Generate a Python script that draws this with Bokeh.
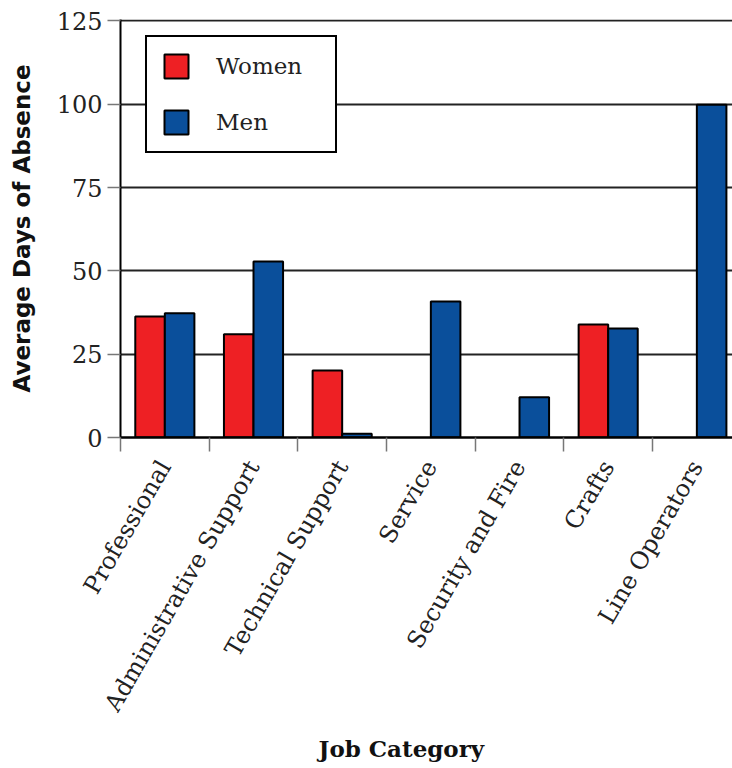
import math
from bokeh.plotting import figure
from bokeh.models import (ColumnDataSource, Range1d, FixedTicker, Legend, LegendItem, Title)
from bokeh.embed import file_html
from bokeh.resources import INLINE

# ---- data ----
categories = ["Professional", "Administrative Support", "Technical Support", "Service",
              "Security and Fire", "Crafts", "Line Operators"]
women = [36.3, 31.0, 20.1, 0, 0, 33.9, 0]
men = [37.3, 52.8, 1.1, 40.8, 12.1, 32.7, 99.8]
y_ticks = [0, 25, 50, 75, 100, 125]
series_names = ["Women", "Men"]
series_colors = ["#EE2024", "#0A4F9B"]
x_title = "Job Category"
y_title = "Average Days of Absence"

n = len(categories)
centers = [i + 0.5 for i in range(n)]
bw = 1.0 / 3.0

src_w = ColumnDataSource(dict(
    x=[c - bw / 2 for c, v in zip(centers, women) if v > 0],
    top=[v for v in women if v > 0]))
src_m = ColumnDataSource(dict(
    x=[c + bw / 2 for c, v in zip(centers, men) if v > 0],
    top=[v for v in men if v > 0]))

p = figure(width=732, height=768, output_backend="svg", toolbar_location=None,
           x_range=Range1d(0, 6.902), y_range=Range1d(0, 125.4),
           min_border_left=120, min_border_right=0, min_border_top=19,
           min_border_bottom=331)
p.outline_line_color = None
p.background_fill_color = "white"
p.border_fill_color = "white"

rw = p.vbar(x="x", top="top", bottom=0, width=bw, source=src_w,
            fill_color=series_colors[0], line_color="black", line_width=2)
rm = p.vbar(x="x", top="top", bottom=0, width=bw, source=src_m,
            fill_color=series_colors[1], line_color="black", line_width=2)

# y axis
yax = p.yaxis[0]
yax.ticker = FixedTicker(ticks=y_ticks)
yax.axis_line_color = "black"
yax.axis_line_width = 2
yax.major_tick_line_color = "#777777"
yax.major_tick_line_width = 1.5
yax.major_tick_out = 13
yax.major_tick_in = 0
yax.minor_tick_line_color = None
yax.major_label_standoff = 5
yax.major_label_text_font = "DejaVu Serif"
yax.major_label_text_font_size = "24px"
yax.major_label_text_color = "#222222"
yax.axis_label = y_title
yax.axis_label_text_font = "DejaVu Sans"
yax.axis_label_text_font_style = "bold"
yax.axis_label_text_font_size = "23px"
yax.axis_label_text_color = "#111111"
yax.axis_label_standoff = 19

p.ygrid[0].ticker = FixedTicker(ticks=y_ticks[1:])
p.ygrid[0].grid_line_color = "#222222"
p.ygrid[0].grid_line_width = 2
p.xgrid[0].grid_line_color = None

# x axis
xax = p.xaxis[0]
xax.ticker = FixedTicker(ticks=centers, minor_ticks=list(range(n + 1)))
xax.major_label_overrides = {c: lab for c, lab in zip(centers, categories)}
xax.major_label_orientation = math.pi / 3
xax.major_tick_line_color = None
xax.major_tick_out = 0
xax.major_tick_in = 0
xax.minor_tick_line_color = "#777777"
xax.minor_tick_line_width = 1.5
xax.minor_tick_out = 14
xax.minor_tick_in = 0
xax.axis_line_color = "black"
xax.axis_line_width = 2.5
xax.major_label_standoff = 11
xax.major_label_text_font = "DejaVu Serif"
xax.major_label_text_font_size = "24px"
xax.major_label_text_color = "#222222"

# x title
xt = Title(text=x_title, align="left", offset=198, standoff=12,
           text_font="DejaVu Serif", text_font_style="bold",
           text_font_size="23px", text_color="#111111")
p.add_layout(xt, "below")

legend = Legend(items=[LegendItem(label=series_names[0], renderers=[rw]),
                       LegendItem(label=series_names[1], renderers=[rm])],
                location=(25, 284),
                glyph_width=30, glyph_height=30, label_height=26,
                label_width=105, label_standoff=25, spacing=26, padding=14,
                border_line_color="black", border_line_width=2, border_line_alpha=1.0,
                background_fill_color="white", background_fill_alpha=1.0,
                label_text_font="DejaVu Serif", label_text_font_size="23px",
                label_text_color="#222222")
p.add_layout(legend, "center")

open("out.html", "w").write(file_html(p, INLINE))
